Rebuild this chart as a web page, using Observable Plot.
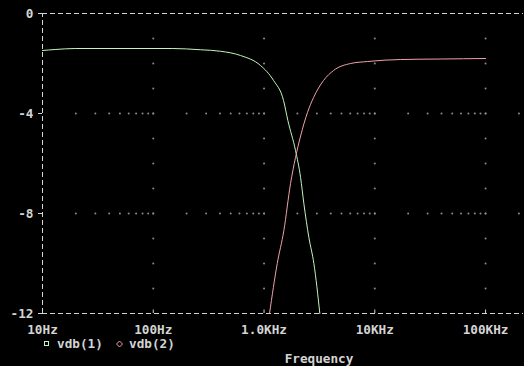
<!DOCTYPE html>
<html>
<head>
<meta charset="utf-8">
<script src="https://cdn.jsdelivr.net/npm/d3@7"></script>
<script src="https://cdn.jsdelivr.net/npm/@observablehq/plot@0.6"></script>
<style>
  html, body { margin: 0; padding: 0; background: #000; }
</style>
</head>
<body>
<div id="chart"></div>
<script>
// ---- data ----
const freq1 = [10, 13, 20, 150, 267, 405, 614, 930, 1219, 1500, 1641, 1924, 2138, 2288, 2540, 2818, 3190];
const vdb1  = [-1.48, -1.44, -1.40, -1.40, -1.45, -1.51, -1.68, -2.08, -2.68, -3.48, -4.28, -5.48, -6.56, -7.6, -8.96, -10.0, -12];
const freq2 = [1121, 1316, 1510, 1735, 1924, 2138, 2471, 2800, 3445, 4243, 6043, 8610, 17100, 40000, 100000];
const vdb2  = [-12, -10.0, -8.68, -6.8, -5.76, -4.9, -3.95, -3.36, -2.68, -2.28, -2.0, -1.92, -1.84, -1.82, -1.8];
const seriesNames = ["vdb(1)", "vdb(2)"];
const xTicks = [10, 100, 1000, 10000, 100000];
const xTickLabels = ["10Hz", "100Hz", "1.0KHz", "10KHz", "100KHz"];
const yTicks = [0, -4, -8, -12];
const yTickLabels = ["0", "-4", "-8", "-12"];
const yGrid = [-4, -8];
const yMinor = [-1, -2, -3, -5, -6, -7, -9, -10, -11, -4, -8];
const xMinorMult = [2, 3, 4, 5, 6, 7, 8, 9, 10];
const xLabel = "Frequency";

const green = "#c4f5bc";
const red = "#f0a2aa";
const axisCol = "#d4d4d4";
const gridCol = "#8c8c8c";

const rows1 = freq1.map((f, i) => ({f, v: vdb1[i]}));
const rows2 = freq2.map((f, i) => ({f, v: vdb2[i]}));

// grid dots (PSpice-like dotted grid)
const vertDots = xTicks.slice(1).flatMap(f => yMinor.map(v => ({f, v})));
const horizDots = yGrid.flatMap(v => [10, 100, 1000, 10000, 100000]
  .flatMap(d => xMinorMult.map(m => ({f: d * m, v}))).filter(p => p.f <= 200000));

const xmax = 220000;

const plot = Plot.plot({
  width: 524,
  height: 366,
  marginLeft: 42,
  marginRight: 1,
  marginTop: 13,
  marginBottom: 53,
  style: {background: "#000", color: axisCol, fontFamily: "DejaVu Sans Mono", fontSize: "12.7px", fontWeight: "bold"},
  x: {type: "log", domain: [10, xmax], axis: null},
  y: {domain: [-12, 0]},
  marks: [
    Plot.dot(vertDots, {x: "f", y: "v", r: 1, fill: gridCol, stroke: null}),
    Plot.dot(horizDots, {x: "f", y: "v", r: 1, fill: gridCol, stroke: null}),
    Plot.ruleY([0, -12], {x1: 10, x2: xmax, stroke: axisCol, strokeDasharray: "5,3"}),
    Plot.ruleX([10], {y1: -12, y2: 0, stroke: axisCol, strokeDasharray: "5,3"}),
    Plot.ruleX(xTicks, {y1: -12, y2: -11.86, stroke: axisCol}),
    Plot.text(xTicks, {x: d => d, y: -12, text: d => xTickLabels[xTicks.indexOf(d)], dy: 16, fill: axisCol, textAnchor: "middle"}),
    Plot.axisY(yTicks, {tickSize: 4, tickPadding: 5, tickFormat: d => yTickLabels[yTicks.indexOf(d)], label: null, fill: axisCol}),
    Plot.line(rows1, {x: "f", y: "v", stroke: green, strokeWidth: 1, curve: "monotone-x"}),
    Plot.line(rows2, {x: "f", y: "v", stroke: red, strokeWidth: 1, curve: "monotone-x"})
  ]
});

const svg = d3.select(plot);
// legend
const lg = svg.append("g").attr("font-family", "DejaVu Sans Mono").attr("font-size", "12.7px").attr("font-weight", "bold").attr("fill", axisCol).attr("text-anchor", "start");
lg.append("rect").attr("x", 44.5).attr("y", 341.5).attr("width", 4).attr("height", 4).attr("fill", "none").attr("stroke", green).attr("stroke-width", 1);
lg.append("text").attr("x", 57).attr("y", 348).attr("text-anchor", "start").text(seriesNames[0]);
lg.append("path").attr("d", "M119.5,341 L122.5,344 L119.5,347 L116.5,344 Z").attr("fill", "none").attr("stroke", red).attr("stroke-width", 1);
lg.append("text").attr("x", 129).attr("y", 348).attr("text-anchor", "start").text(seriesNames[1]);
lg.append("text").attr("x", 319).attr("y", 363).attr("text-anchor", "middle").text(xLabel);

document.getElementById("chart").appendChild(plot);
</script>
</body>
</html>
